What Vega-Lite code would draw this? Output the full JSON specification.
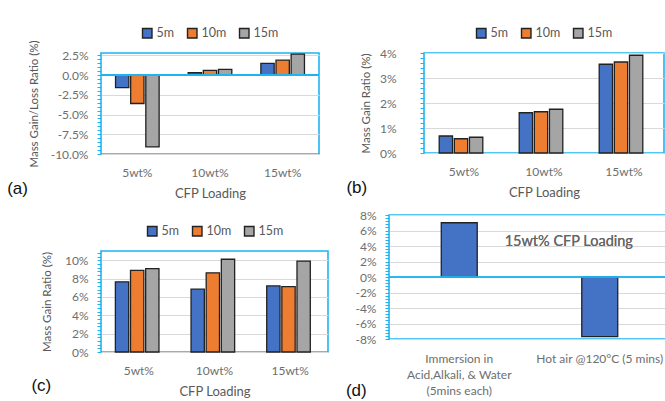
{
  "$schema": "https://vega.github.io/schema/vega-lite/v6.json",
  "padding": {"left": 6, "top": 26, "right": 0, "bottom": 0},
  "background": "white",
  "datasets": {
    "a": [
      {"loading": "5wt%", "time": "5m", "value": -1.6},
      {"loading": "5wt%", "time": "10m", "value": -3.6},
      {"loading": "5wt%", "time": "15m", "value": -9.1},
      {"loading": "10wt%", "time": "5m", "value": 0.3},
      {"loading": "10wt%", "time": "10m", "value": 0.6},
      {"loading": "10wt%", "time": "15m", "value": 0.72},
      {"loading": "15wt%", "time": "5m", "value": 1.48},
      {"loading": "15wt%", "time": "10m", "value": 1.9},
      {"loading": "15wt%", "time": "15m", "value": 2.67}
    ],
    "b": [
      {"loading": "5wt%", "time": "5m", "value": 0.68},
      {"loading": "5wt%", "time": "10m", "value": 0.57},
      {"loading": "5wt%", "time": "15m", "value": 0.63},
      {"loading": "10wt%", "time": "5m", "value": 1.61},
      {"loading": "10wt%", "time": "10m", "value": 1.65},
      {"loading": "10wt%", "time": "15m", "value": 1.75},
      {"loading": "15wt%", "time": "5m", "value": 3.55},
      {"loading": "15wt%", "time": "10m", "value": 3.64},
      {"loading": "15wt%", "time": "15m", "value": 3.91}
    ],
    "c": [
      {"loading": "5wt%", "time": "5m", "value": 7.64},
      {"loading": "5wt%", "time": "10m", "value": 8.9},
      {"loading": "5wt%", "time": "15m", "value": 9.09},
      {"loading": "10wt%", "time": "5m", "value": 6.84},
      {"loading": "10wt%", "time": "10m", "value": 8.62},
      {"loading": "10wt%", "time": "15m", "value": 10.1},
      {"loading": "15wt%", "time": "5m", "value": 7.2},
      {"loading": "15wt%", "time": "10m", "value": 7.13},
      {"loading": "15wt%", "time": "15m", "value": 9.9}
    ],
    "d": [
      {"treatment": "Immersion in Acid,Alkali, & Water (5mins each)", "value": 7.0},
      {"treatment": "Hot air @120°C (5 mins)", "value": -7.7}
    ]
  },
  "resolve": {"legend": {"color": "independent"}},
  "spacing": 7,
  "vconcat": [
    {
      "spacing": 24,
      "resolve": {"legend": {"color": "independent"}},
      "hconcat": [
        {
          "width": 218,
          "height": 101,
          "title": {"text": "(a)", "orient": "bottom", "anchor": "start", "frame": "bounds", "offset": -19, "dx": -21},
          "data": {"name": "a"},
          "layer": [
            {
              "mark": {"type": "bar", "stroke": "#222222", "strokeWidth": 1.3},
              "encoding": {
                "x": {"field": "loading", "type": "nominal", "sort": ["5wt%", "10wt%", "15wt%"],
                      "scale": {"paddingInner": 0.4, "paddingOuter": 0.2},
                      "axis": {"title": "CFP Loading", "labelAngle": 0, "domain": false, "ticks": false, "labelPadding": 13, "titlePadding": 9}},
                "xOffset": {"field": "time", "type": "nominal", "sort": ["5m", "10m", "15m"], "scale": {"paddingInner": 0.12}},
                "y": {"field": "value", "type": "quantitative",
                      "scale": {"domain": [-10, 2.8], "nice": false, "zero": false},
                      "axis": {"title": "Mass Gain/Loss Ratio (%)", "labelPadding": 9, "titlePadding": 11, "labelOverlap": false,
                               "values": [-10, -9.5, -9, -8.5, -8, -7.5, -7, -6.5, -6, -5.5, -5, -4.5, -4, -3.5, -3, -2.5, -2, -1.5, -1, -0.5, 0, 0.5, 1, 1.5, 2, 2.5],
                               "labelExpr": "abs(datum.value/2.5 - round(datum.value/2.5)) < 0.001 ? (datum.value < 0 ? '-' : '') + format(abs(datum.value), '.1f') + '%' : ''",
                               "gridOpacity": {"condition": {"test": "abs(datum.value/2.5 - round(datum.value/2.5)) < 0.001", "value": 1}, "value": 0}}},
                "color": {"field": "time", "type": "nominal", "sort": ["5m", "10m", "15m"],
                          "scale": {"domain": ["5m", "10m", "15m"], "range": ["#4472C4", "#ED7D31", "#A5A5A5"]},
                          "legend": {"title": null, "orient": "top"}}
              }
            },
            {"mark": {"type": "rule", "color": "#1EB4F0", "strokeWidth": 1.6},
             "encoding": {"y": {"datum": 0, "type": "quantitative",
                      "axis": {"title": "Mass Gain/Loss Ratio (%)", "labelPadding": 9, "titlePadding": 11, "labelOverlap": false,
                               "values": [-10, -9.5, -9, -8.5, -8, -7.5, -7, -6.5, -6, -5.5, -5, -4.5, -4, -3.5, -3, -2.5, -2, -1.5, -1, -0.5, 0, 0.5, 1, 1.5, 2, 2.5],
                               "labelExpr": "abs(datum.value/2.5 - round(datum.value/2.5)) < 0.001 ? (datum.value < 0 ? '-' : '') + format(abs(datum.value), '.1f') + '%' : ''",
                               "gridOpacity": {"condition": {"test": "abs(datum.value/2.5 - round(datum.value/2.5)) < 0.001", "value": 1}, "value": 0}}}}}
          ]
        },
        {
          "width": 240,
          "height": 100,
          "title": {"text": "(b)", "orient": "bottom", "anchor": "start", "frame": "bounds", "offset": -19, "dx": -14},
          "data": {"name": "b"},
          "mark": {"type": "bar", "stroke": "#222222", "strokeWidth": 1.3},
          "encoding": {
            "x": {"field": "loading", "type": "nominal", "sort": ["5wt%", "10wt%", "15wt%"],
                  "scale": {"paddingInner": 0.38, "paddingOuter": 0.19},
                  "axis": {"title": "CFP Loading", "labelAngle": 0, "domain": false, "ticks": false, "labelPadding": 13, "titlePadding": 9}},
            "xOffset": {"field": "time", "type": "nominal", "sort": ["5m", "10m", "15m"], "scale": {"paddingInner": 0.12}},
            "y": {"field": "value", "type": "quantitative",
                  "scale": {"domain": [0, 4], "nice": false},
                  "axis": {"title": "Mass Gain Ratio (%)", "labelPadding": 24, "titlePadding": 8,
                           "values": [0, 0.2, 0.4, 0.6, 0.8, 1, 1.2, 1.4, 1.6, 1.8, 2, 2.2, 2.4, 2.6, 2.8, 3, 3.2, 3.4, 3.6, 3.8, 4],
                           "labelExpr": "abs(datum.value - round(datum.value)) < 0.001 ? format(datum.value, 'd') + '%' : ''",
                           "gridOpacity": {"condition": {"test": "abs(datum.value - round(datum.value)) < 0.001", "value": 1}, "value": 0}}},
            "color": {"field": "time", "type": "nominal", "sort": ["5m", "10m", "15m"],
                      "scale": {"domain": ["5m", "10m", "15m"], "range": ["#4472C4", "#ED7D31", "#A5A5A5"]},
                      "legend": {"title": null, "orient": "top"}}
          }
        }
      ]
    },
    {
      "spacing": 16,
      "resolve": {"legend": {"color": "independent"}},
      "hconcat": [
        {
          "spacing": 0,
          "resolve": {"legend": {"color": "independent"}},
          "vconcat": [
            {
              "width": 10,
              "height": 9,
              "view": {"stroke": null},
              "data": {"values": []},
              "mark": "point"
            },
            {
              "width": 227,
              "height": 101,
              "title": {"text": "(c)", "orient": "bottom", "anchor": "start", "frame": "bounds", "offset": -20, "dx": -10},
              "data": {"name": "c"},
              "mark": {"type": "bar", "stroke": "#222222", "strokeWidth": 1.3},
              "encoding": {
                "x": {"field": "loading", "type": "nominal", "sort": ["5wt%", "10wt%", "15wt%"],
                      "scale": {"paddingInner": 0.38, "paddingOuter": 0.19},
                      "axis": {"title": "CFP Loading", "labelAngle": 0, "domain": false, "ticks": false, "labelPadding": 13, "titlePadding": 9}},
                "xOffset": {"field": "time", "type": "nominal", "sort": ["5m", "10m", "15m"], "scale": {"paddingInner": 0.12}},
                "y": {"field": "value", "type": "quantitative",
                      "scale": {"domain": [0, 11], "nice": false},
                      "axis": {"title": "Mass Gain Ratio (%)", "labelPadding": 9, "titlePadding": 12,
                               "values": [0, 0.4, 0.8, 1.2, 1.6, 2, 2.4, 2.8, 3.2, 3.6, 4, 4.4, 4.8, 5.2, 5.6, 6, 6.4, 6.8, 7.2, 7.6, 8, 8.4, 8.8, 9.2, 9.6, 10, 10.4, 10.8],
                               "labelExpr": "abs(datum.value/2 - round(datum.value/2)) < 0.001 ? format(datum.value, 'd') + '%' : ''",
                               "gridOpacity": {"condition": {"test": "abs(datum.value/2 - round(datum.value/2)) < 0.001", "value": 1}, "value": 0}}},
                "color": {"field": "time", "type": "nominal", "sort": ["5m", "10m", "15m"],
                          "scale": {"domain": ["5m", "10m", "15m"], "range": ["#4472C4", "#ED7D31", "#A5A5A5"]},
                          "legend": {"title": null, "orient": "top"}}
              }
            }
          ]
        },
        {
          "width": 281,
          "height": 124,
          "title": {"text": "(d)", "orient": "bottom", "anchor": "start", "frame": "bounds", "offset": -13, "dx": -9},
          "data": {"name": "d"},
          "layer": [
            {
              "mark": {"type": "bar", "color": "#4472C4", "stroke": "#222222", "strokeWidth": 1.3},
              "encoding": {
                "x": {"field": "treatment", "type": "nominal", "sort": null,
                      "scale": {"paddingInner": 0.744, "paddingOuter": 0.372},
                      "axis": {"title": null, "labelAngle": 0, "domain": false, "ticks": false, "labelPadding": 14, "labelLineHeight": 16, "labelLimit": 0,
                               "labelExpr": "indexof(datum.value, 'Immersion') == 0 ? ['Immersion in', 'Acid,Alkali, & Water', '(5mins each)'] : datum.value"}},
                "y": {"field": "value", "type": "quantitative",
                      "scale": {"domain": [-8, 8], "nice": false},
                      "axis": {"title": null, "labelPadding": 9, "labelOverlap": false,
                               "values": [-8, -7.6, -7.2, -6.8, -6.4, -6, -5.6, -5.2, -4.8, -4.4, -4, -3.6, -3.2, -2.8, -2.4, -2, -1.6, -1.2, -0.8, -0.4, 0, 0.4, 0.8, 1.2, 1.6, 2, 2.4, 2.8, 3.2, 3.6, 4, 4.4, 4.8, 5.2, 5.6, 6, 6.4, 6.8, 7.2, 7.6, 8],
                               "labelExpr": "abs(datum.value/2 - round(datum.value/2)) < 0.001 ? (datum.value < 0 ? '-' : '') + format(abs(datum.value), 'd') + '%' : ''",
                               "gridOpacity": {"condition": {"test": "abs(datum.value/2 - round(datum.value/2)) < 0.001", "value": 1}, "value": 0}}}
              }
            },
            {"mark": {"type": "rule", "color": "#1EB4F0", "strokeWidth": 1.6},
             "encoding": {"y": {"datum": 0, "type": "quantitative",
                      "axis": {"title": null, "labelPadding": 9, "labelOverlap": false,
                               "values": [-8, -7.6, -7.2, -6.8, -6.4, -6, -5.6, -5.2, -4.8, -4.4, -4, -3.6, -3.2, -2.8, -2.4, -2, -1.6, -1.2, -0.8, -0.4, 0, 0.4, 0.8, 1.2, 1.6, 2, 2.4, 2.8, 3.2, 3.6, 4, 4.4, 4.8, 5.2, 5.6, 6, 6.4, 6.8, 7.2, 7.6, 8],
                               "labelExpr": "abs(datum.value/2 - round(datum.value/2)) < 0.001 ? (datum.value < 0 ? '-' : '') + format(abs(datum.value), 'd') + '%' : ''",
                               "gridOpacity": {"condition": {"test": "abs(datum.value/2 - round(datum.value/2)) < 0.001", "value": 1}, "value": 0}}}}},
            {
              "mark": {"type": "text", "fontSize": 14.5, "fontWeight": "normal", "color": "#666666", "font": "Lato", "dx": -31},
              "encoding": {"x": {"datum": "Hot air @120°C (5 mins)"},
                           "y": {"datum": 4.5, "type": "quantitative",
                      "axis": {"title": null, "labelPadding": 9, "labelOverlap": false,
                               "values": [-8, -7.6, -7.2, -6.8, -6.4, -6, -5.6, -5.2, -4.8, -4.4, -4, -3.6, -3.2, -2.8, -2.4, -2, -1.6, -1.2, -0.8, -0.4, 0, 0.4, 0.8, 1.2, 1.6, 2, 2.4, 2.8, 3.2, 3.6, 4, 4.4, 4.8, 5.2, 5.6, 6, 6.4, 6.8, 7.2, 7.6, 8],
                               "labelExpr": "abs(datum.value/2 - round(datum.value/2)) < 0.001 ? (datum.value < 0 ? '-' : '') + format(abs(datum.value), 'd') + '%' : ''",
                               "gridOpacity": {"condition": {"test": "abs(datum.value/2 - round(datum.value/2)) < 0.001", "value": 1}, "value": 0}}},
                           "text": {"value": "15wt% CFP Loading"}}
            }
          ]
        }
      ]
    }
  ],
  "config": {
    "font": "Lato",
    "view": {"stroke": "#1EB4F0", "strokeWidth": 1.6},
    "title": {"font": "Liberation Sans", "fontSize": 17, "fontWeight": "normal", "color": "#111111", "baseline": "top"},
    "axis": {"labelFont": "Lato", "labelFontSize": 12, "labelColor": "#6e6e6e", "titleFont": "Lato", "titleFontSize": 12.5, "titleColor": "#595959", "titleFontWeight": "normal",
             "gridColor": "#d9d9d9", "gridWidth": 1, "tickColor": "#1EB4F0", "tickSize": 4, "domainColor": "#1EB4F0", "labelOverlap": false},
    "axisY": {"titleFontSize": 11.5, "domain": false},
    "axisX": {"titleFontSize": 13, "grid": false},
    "legend": {"labelFont": "Lato", "labelFontSize": 12.5, "labelColor": "#595959", "symbolType": "square", "symbolSize": 90, "symbolStrokeColor": "#222222", "symbolStrokeWidth": 1.4, "symbolOpacity": 1, "columnPadding": 9, "gridAlign": "none", "labelOffset": 3, "padding": 0, "offset": 12, "direction": "horizontal", "layout": {"anchor": "middle"}}
  }
}
